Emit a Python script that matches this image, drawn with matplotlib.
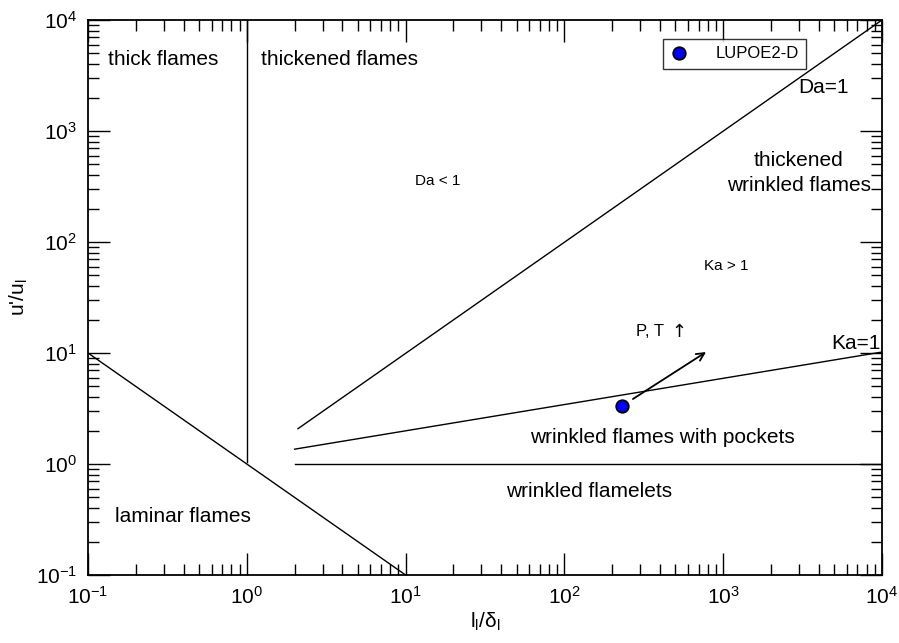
import matplotlib
matplotlib.use('Agg')
import matplotlib.pyplot as plt
from matplotlib.ticker import LogLocator, NullFormatter

plt.rcParams['font.family'] = ['Liberation Sans', 'DejaVu Sans']
plt.rcParams['mathtext.fontset'] = 'custom'
plt.rcParams['mathtext.rm'] = 'Liberation Sans'
plt.rcParams['mathtext.it'] = 'Liberation Sans'
plt.rcParams['mathtext.default'] = 'rm'

# regime boundaries of the combustion diagram
re_x, re_y = [0.1, 10.0], [10.0, 0.1]            # Re = 1
thick_x, thick_y = [1.0, 1.0], [1.04, 1e4]        # l/delta = 1
da_x, da_y = [2.1, 1e4], [2.08, 1e4]              # Da = 1
ka_x, ka_y = [2.0, 1e4], [1.36, 10.2]             # Ka = 1
pocket_x, pocket_y = [2.0, 1e4], [1.0, 1.0]       # u'/u_l = 1

# operating point and the trend with pressure / temperature
case_name = 'LUPOE2-D'
case_x, case_y = [230.0], [3.34]
trend_start = (270.0, 3.85)
trend_end = (780.0, 10.2)

fig = plt.figure(figsize=(8.99, 6.43), dpi=100)
ax = fig.add_axes([88/899, 1 - 575/643, (882 - 88)/899, (575 - 20)/643])

for xs, ys in [(re_x, re_y), (thick_x, thick_y), (da_x, da_y),
               (ka_x, ka_y), (pocket_x, pocket_y)]:
    ax.plot(xs, ys, color='black', lw=1.0)

ax.plot(case_x, case_y, 'o', ms=9, mfc='#0000ff', mec='black', mew=1.3,
        ls='none', label=case_name, zorder=5)
ax.annotate('', xy=trend_end, xytext=trend_start,
            arrowprops=dict(arrowstyle='->', color='black', lw=1.3,
                            mutation_scale=14, shrinkA=0, shrinkB=0))

ax.set_xscale('log')
ax.set_yscale('log')
ax.set_xlim(0.1, 1e4)
ax.set_ylim(0.1, 1e4)

for axis in (ax.xaxis, ax.yaxis):
    axis.set_major_locator(LogLocator(base=10, numticks=10))
    axis.set_minor_locator(LogLocator(base=10, subs=range(2, 10), numticks=10))
    axis.set_minor_formatter(NullFormatter())
ax.tick_params(which='both', direction='in', top=True, right=True,
               labelsize=15, width=1.0)
ax.tick_params(which='major', length=16, pad=8)
ax.tick_params(which='minor', length=8)
for sp in ax.spines.values():
    sp.set_linewidth(1.3)

ax.set_xlabel(r"l$_{\mathrm{l}}$/$\mathrm{\delta}_{\mathrm{l}}$", fontsize=15, labelpad=2)
ax.set_ylabel(r"u'/u$_{\mathrm{l}}$", fontsize=15, labelpad=4)

big = 15
small = 11
ax.text(0.134, 4370, 'thick flames', fontsize=big, va='center')
ax.text(1.23, 4370, 'thickened flames', fontsize=big, va='center')
ax.text(16, 355, 'Da < 1', fontsize=small, ha='center', va='center')
ax.text(3000, 417, 'thickened\nwrinkled flames', fontsize=big, ha='center',
        va='center', linespacing=1.4)
ax.text(1050, 61, 'Ka > 1', fontsize=small, ha='center', va='center')
ax.text(346, 15.5, 'P, T', fontsize=12, ha='center', va='center')
ax.text(525, 15.5, '\u2191', fontsize=13, ha='center', va='center',
        family=['DejaVu Sans'])
ax.text(9.8e3, 12.3, 'Ka=1', fontsize=big, ha='right', va='center')
ax.text(2950, 2440, 'Da=1', fontsize=big, ha='left', va='center')
ax.text(417, 1.75, 'wrinkled flames with pockets', fontsize=big,
        ha='center', va='center')
ax.text(0.148, 0.34, 'laminar flames', fontsize=big, va='center')
ax.text(143, 0.56, 'wrinkled flamelets', fontsize=big, ha='center', va='center')

leg = ax.legend(loc='upper left', bbox_to_anchor=(663/899, 1 - 39/643),
                bbox_transform=fig.transFigure, borderaxespad=0,
                fontsize=12, frameon=True, fancybox=False,
                handlelength=1.0, handletextpad=1.7, borderpad=0.45,
                numpoints=1)
leg.get_frame().set_edgecolor('black')
leg.get_frame().set_linewidth(1.0)

fig.savefig('out.png', dpi=100)
